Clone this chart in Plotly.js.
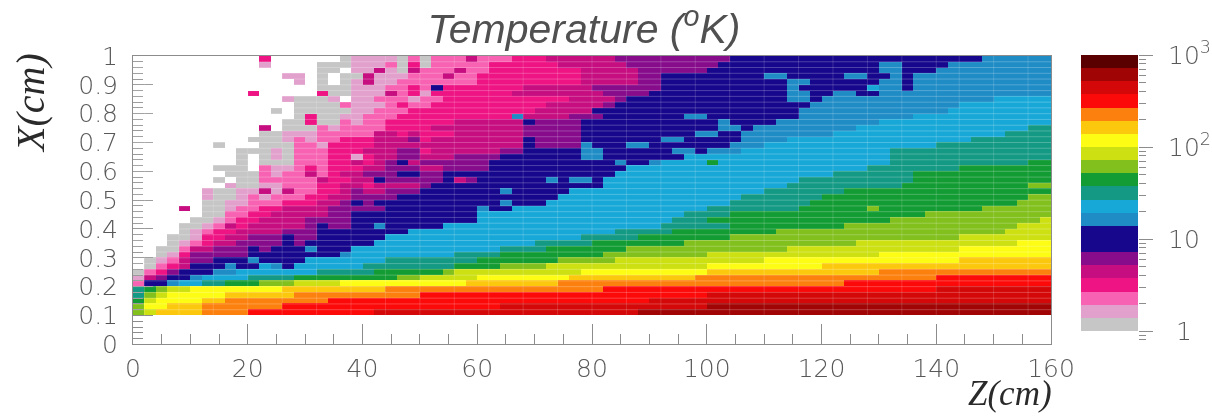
<!DOCTYPE html>
<html><head><meta charset="utf-8">
<script src="https://cdn.plot.ly/plotly-3.0.1.min.js"></script>
<style>html,body{margin:0;padding:0;background:#fff}#chart{width:1212px;height:416px;filter:blur(0.5px)}</style>
</head><body><div id="chart"></div>
<script>
// Palette levels a..u, lowest to highest (21 equal log steps from 1 to 1000)
const levelColors = ["#c6c6c6","#e2a0cc","#f763b2","#ee1484","#c60e80","#860c8c","#17078c","#17078c","#1f8cc6","#18a8d8","#149a84","#149c34","#82c01e","#cce012","#fcfc14","#fcc80e","#fc800e","#fc0a0a","#d40808","#a00404","#5a0000"];
const levelNames = "abcdefghijklmnopqrstu";
const decadeTickVals = [0,1,2,3];
const decadeTickText = ["\u00a01","10","10<sup>2</sup>","10<sup>3</sup>"];
const scaleMinorVals = [-0.0458,-0.0969,0.301,0.477,0.602,0.699,0.778,0.845,0.903,0.954,1.301,1.477,1.602,1.699,1.778,1.845,1.903,1.954,2.301,2.477,2.602,2.699,2.778,2.845,2.903,2.954];
// Run-length rows, X = 0.98-1.00 first, X = 0.10-0.12 last.  "." = empty
const rowsTopDown = [
".11 d1 .6 a1 b4 a1 c1 a1 c3 e1 c3 d3 e6 f10 g22 i6",
".11 b1 .4 a3 b3 c1 a1 d1 a1 c5 d6 e6 f8 g14 i2 g4 i9",
".16 a2 .1 b2 e1 b1 a1 e1 c3 e1 c2 d8 e5 f6 g15 i2 g3 i10",
".13 b2 .1 a1 .1 a2 e1 b3 c1 c2 e1 c2 d9 e5 f2 g9 i2 g5 i2 g2 i1 g1 i12",
".14 b1 .1 a1 .1 a1 b1 e1 b2 c2 c5 d9 e5 f2 g11 i2 g6 i2 g1 i12",
".16 a3 b3 c1 c1 d1 c1 g1 d7 e6 f6 g11 i1 g6 j1 i2 g1 i12",
".10 d1 .5 d1 a2 b3 e1 c1 d1 b1 d7 e8 f4 g12 i2 g2 i2 g2 i15",
".13 b1 a3 b1 .1 b2 c3 b1 c2 d11 e4 f1 g14 i2 g1 i15 j5",
".14 a4 c1 b3 c1 d1 c1 c1 d10 e5 f1 g17 i13 j8",
".12 a1 .1 a5 b2 c3 d1 d10 e5 g18 i13 j9",
".14 a1 d1 a2 b2 c2 c1 d2 d8 i1 e4 f3 g7 i2 g8 i10 j12",
".13 a2 d1 a2 c1 b1 c2 d3 d3 e6 g1 f4 g12 i1 g4 i9 j15",
".11 e1 .1 a3 c1 b1 c4 d3 d1 e8 f5 g12 i2 g1 i9 j15 k2",
".11 a2 b3 c5 e2 d1 e1 d3 e6 f5 g10 i2 g2 i8 j15 k4",
".10 a3 b1 c1 b1 c2 d3 e3 f1 d1 e8 g1 f4 g7 i2 g5 i4 j16 k7",
".7 a1 .3 a3 c2 b1 d4 e4 e9 g1 f4 i1 g3 i2 g7 i3 j15 k10",
".9 a3 b1 a1 c3 d3 e3 f2 d1 e6 f2 g5 i2 g6 i2 g1 i3 j13 k14",
".9 a1 .1 a1 b1 a1 c3 d2 b1 d1 e2 f2 e3 f4 g7 i1 i1 g7 j18 k14",
".9 a1 .1 a3 c3 d2 e1 d1 e1 f1 g1 e1 f6 g11 i1 g2 i1 j4 l1 j15 k12 l2",
".7 a3 .1 c1 b2 c1 d1 c1 d3 e2 f3 e2 f4 g12 j21 k8 l8",
".8 a3 c1 b1 c2 e1 c1 d1 e2 f3 g2 f2 g15 j19 k7 l12",
".7 a1 .1 a2 c3 c2 e1 d2 e2 g1 f3 f2 g1 e1 f1 g6 i1 g1 i2 g1 j17 k10 l12",
".8 b1 a2 b2 c3 d2 e2 d1 e4 f1 g15 j16 k10 l11 m2",
".6 b1 a2 b2 e1 b1 e1 c2 d2 e1 f1 e2 f3 g7 i1 g5 j17 k7 l18",
".6 b1 a2 b1 c1 b1 c3 d2 e2 f4 g2 g12 j16 k7 l18 m2",
".6 a2 b2 c3 d3 e2 f1 g1 f1 g4 g7 i1 g3 j16 k7 l18 m3",
".4 e1 .1 a2 b1 c2 d2 e4 f5 g3 g5 i1 g2 j17 k8 l6 m1 l9 m6",
".6 a2 c2 d2 e5 f2 g6 g5 j18 k4 l17 m11",
".5 a2 b1 c1 d2 e4 f4 g6 g5 j17 k3 l16 m13 n1",
".4 a2 b1 c1 e1 d1 e5 f1 g1 f2 g2 i1 g3 g2 j19 k6 l10 m15 n3",
".4 a1 b1 c1 d2 e4 f3 g8 j1 j17 k5 l9 m20 n4",
".3 a2 b1 d2 e2 f3 g1 f2 g6 j3 j14 k5 l8 m20 n8",
".3 a1 b1 c1 d1 e2 f4 g1 f1 g6 j4 j10 k5 l8 m15 n14 o3",
".2 a2 c1 e2 f3 g1 f1 g3 i1 g3 j6 j7 k4 l7 m14 n15 o8",
".2 a1 b1 d1 f5 g8 i1 j6 j3 k4 l9 m9 n15 o15",
".1 a1 b1 c1 e1 f2 g3 i1 g4 j7 k3 k5 l7 m5 n13 o17 p8",
".1 a1 c1 d1 e1 g3 i1 g2 j1 i1 g1 j6 k5 k3 l4 m4 n14 o10 p20",
"a1 c1 d1 f1 g3 i2 j7 k5 l4 l2 m1 n11 o11 p15 q15",
"b1 e1 f1 g2 i1 j4 k4 l9 m2 n5 o8 p11 q21 r10",
"c1 g2 i1 j2 k2 l3 m3 n4 o7 o4 p8 q25 r18",
"k1 l1 m1 n2 o8 p9 q3 q16 r29 s10",
"k1 m1 n1 o5 p6 q11 r25 s30",
"l1 n1 o4 p2 q9 r8 r20 s35",
"m1 o2 p3 q7 r12 r7 s18 t30",
"m1 n1 p4 q4 r11 s4 s19 t36"
];
const zEdges = [0,2,4,6,8,10,12,14,16,18,20,22,24,26,28,30,32,34,36,38,40,42,44,46,48,50,52,54,56,58,60,62,64,66,68,70,72,74,76,78,80,82,84,86,88,90,92,94,96,98,100,102,104,106,108,110,112,114,116,118,120,122,124,126,128,130,132,134,136,138,140,142,144,146,148,150,152,154,156,158,160];
const xEdges = [0.10,0.12,0.14,0.16,0.18,0.20,0.22,0.24,0.26,0.28,0.30,0.32,0.34,0.36,0.38,0.40,0.42,0.44,0.46,0.48,0.50,0.52,0.54,0.56,0.58,0.60,0.62,0.64,0.66,0.68,0.70,0.72,0.74,0.76,0.78,0.80,0.82,0.84,0.86,0.88,0.90,0.92,0.94,0.96,0.98,1.00];
const seamZ = [2,8,14,20,26,32,38,44,50,56,62,68,74,80,86,92,98,104,110,116,122,128,134,140,144,150,156];
const xTickVals = [0,20,40,60,80,100,120,140,160];
const yTickVals = [0,0.1,0.2,0.3,0.4,0.5,0.6,0.7,0.8,0.9,1];
const yTickText = ["0","0.1","0.2","0.3","0.4","0.5","0.6","0.7","0.8","0.9","1"];

function decodeRow(s){
  const out=[];
  s.split(" ").forEach(t=>{const c=t[0],n=+t.slice(1);
    for(let i=0;i<n;i++) out.push(c==="."?null:levelNames.indexOf(c)+0.5);});
  return out.slice(0,80);
}
const zGrid = rowsTopDown.slice().reverse().map(decodeRow);
const nL = levelColors.length;
const colorscale=[];
levelColors.forEach((c,i)=>{colorscale.push([i/nL,c]);colorscale.push([(i+1)/nL,c]);});
const scaleEdges = levelColors.map((c,i)=>i*3/nL).concat([3]);
const scaleZ = levelColors.map((c,i)=>[i+0.5]);

const W=1212,H=416;
const grey="#585858", axisLine="#8c8c8c";
const font={family:"DejaVu Sans, Liberation Sans, sans-serif",size:25,color:grey,weight:200};
const seam="rgba(255,255,255,0.24)";
const shapes=[];
xEdges.slice(1,-1).forEach(v=>shapes.push({type:"line",xref:"x",yref:"y",x0:0,x1:160,y0:v,y1:v,line:{color:seam,width:1}}));
seamZ.forEach(v=>shapes.push({type:"line",xref:"x",yref:"y",x0:v,x1:v,y0:0.1,y1:1,line:{color:"rgba(255,255,255,0.16)",width:1}}));

Plotly.newPlot("chart",[
 {type:"heatmap",x:zEdges,y:xEdges,z:zGrid,zmin:0,zmax:nL,colorscale,showscale:false,hoverinfo:"skip",xaxis:"x",yaxis:"y"},
 {type:"heatmap",x:[0,1],y:scaleEdges,z:scaleZ,zmin:0,zmax:nL,colorscale,showscale:false,hoverinfo:"skip",xaxis:"x2",yaxis:"y2"}
],{
 width:W,height:H,margin:{l:0,r:0,t:0,b:0},paper_bgcolor:"#fff",plot_bgcolor:"#fff",showlegend:false,font,
 title:{text:"Temperature (<sup>o</sup>K)",x:584/W,xref:"paper",xanchor:"center",y:1-29/H,yref:"paper",yanchor:"middle",font:{family:"Liberation Sans, Arial, sans-serif",size:41,color:"#505050",style:"italic"}},
 xaxis:{domain:[133/W,1051/W],range:[0,160],tickmode:"array",tickvals:xTickVals,ticks:"inside",ticklen:20,tickcolor:axisLine,tickwidth:1,
   minor:{tickmode:"array",tickvals:[5,10,15,25,30,35,45,50,55,65,70,75,85,90,95,105,110,115,125,130,135,145,150,155],ticks:"inside",ticklen:10,tickcolor:axisLine,tickwidth:1},
   showgrid:false,zeroline:false,showline:true,mirror:true,linecolor:axisLine,linewidth:1,anchor:"y",ticklabelstandoff:2,tickfont:font},
 yaxis:{domain:[(H-344.3)/H,(H-56)/H],range:[0,1],tickmode:"array",tickvals:yTickVals,ticktext:yTickText,ticks:"inside",ticklen:20,tickcolor:axisLine,tickwidth:1,
   minor:{dtick:0.02,ticks:"inside",ticklen:10,tickcolor:axisLine,tickwidth:1},
   showgrid:false,zeroline:false,showline:true,mirror:true,linecolor:axisLine,linewidth:1,anchor:"x",ticklabelstandoff:9,tickfont:font},
 xaxis2:{domain:[1081/W,1138/W],range:[0,1],showticklabels:false,ticks:"",showgrid:false,zeroline:false,showline:false,anchor:"y2"},
 yaxis2:{domain:[(H-340.2)/H,(H-55)/H],range:[-0.1,3],side:"right",anchor:"x2",tickmode:"array",tickvals:decadeTickVals,ticktext:decadeTickText,ticks:"outside",ticklen:14,tickcolor:axisLine,tickwidth:1,
   minor:{tickmode:"array",tickvals:scaleMinorVals,ticks:"outside",ticklen:7,tickcolor:axisLine,tickwidth:1},
   showgrid:false,zeroline:false,showline:false,tickfont:font,ticklabelstandoff:10},
 shapes,
 annotations:[
  {text:"Z(cm)",xref:"paper",yref:"paper",x:1054/W,y:1/H,xanchor:"right",yanchor:"bottom",showarrow:false,font:{family:"Liberation Serif, Times New Roman, serif",size:35,color:"#2a2a2a",style:"italic"}},
  {text:"X(cm)",xref:"paper",yref:"paper",x:30/W,y:1-103/H,xanchor:"center",yanchor:"middle",textangle:-90,showarrow:false,font:{family:"Liberation Serif, Times New Roman, serif",size:40,color:"#2a2a2a",style:"italic"}}
 ]
},{staticPlot:true,displayModeBar:false});
</script></body></html>
